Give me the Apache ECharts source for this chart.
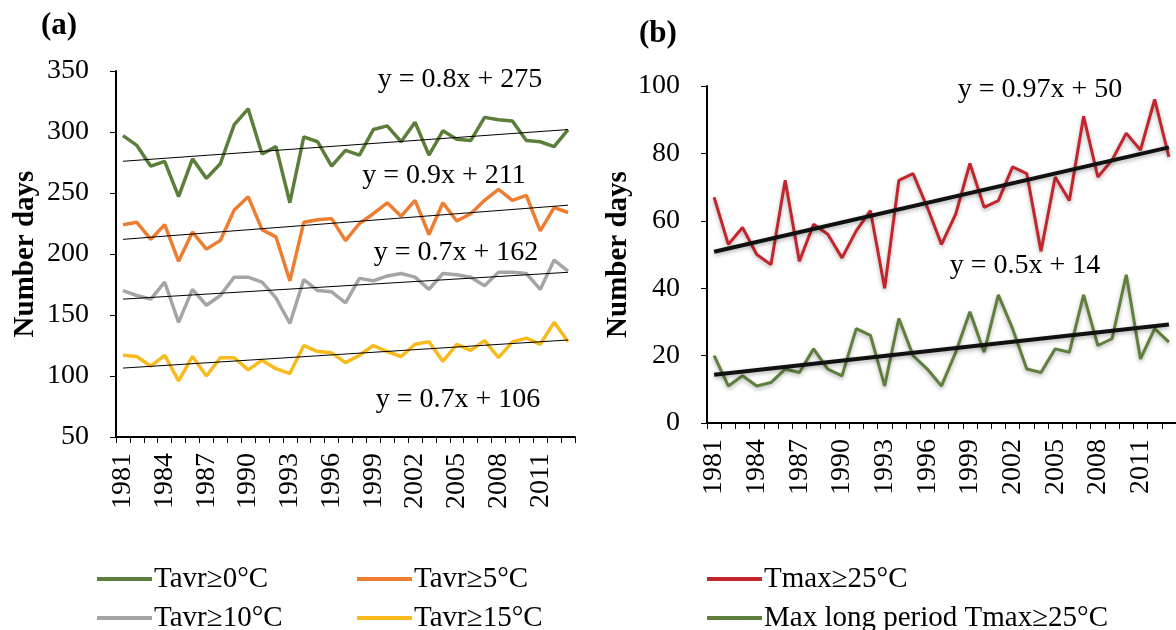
<!DOCTYPE html>
<html>
<head>
<meta charset="utf-8">
<script src="https://cdn.jsdelivr.net/npm/echarts@6/dist/echarts.min.js"></script>
<style>
  html, body { margin: 0; padding: 0; background: #fff; }
  #main { width: 1176px; height: 630px; }
</style>
</head>
<body>
<div id="main"></div>
<script>
var chartDom = document.getElementById('main');
var myChart = echarts.init(chartDom);

// years 1981-2013
var years = [];
for (var y = 1981; y <= 2013; y++) years.push(String(y));

// panel (a): number of days with Tavr above thresholds
var tavr0 = [297, 289, 272, 276, 247, 278, 262, 274, 306, 319, 282, 288, 242, 296, 292, 272, 285, 281, 302, 305, 292, 308, 281, 301, 294, 293, 312, 310, 309, 293, 292, 288, 302];
var tavr5 = [224, 226, 212, 224, 194, 218, 204, 211, 236, 247, 220, 214, 178, 226, 228, 229, 211, 225, 233, 242, 231, 244, 216, 242, 227, 233, 244, 253, 244, 248, 219, 238, 234];
var tavr10 = [170, 166, 163, 177, 144, 171, 158, 166, 181, 181, 177, 164, 143, 179, 170, 169, 160, 180, 178, 182, 184, 181, 171, 184, 183, 181, 174, 185, 185, 184, 171, 195, 186];
var tavr15 = [117, 116, 108, 117, 96, 116, 100, 115, 115, 105, 113, 106, 102, 125, 120, 119, 111, 117, 125, 120, 116, 126, 128, 112, 126, 121, 129, 115, 128, 131, 126, 144, 128];

// panel (b)
var tmax25 = [67, 53, 58, 50, 47, 72, 48, 59, 56, 49, 57, 63, 40, 72, 74, 64, 53, 62, 77, 64, 66, 76, 74, 51, 73, 66, 91, 73, 78, 86, 81, 96, 79];
var maxPeriod = [20, 11, 14, 11, 12, 16, 15, 22, 16, 14, 28, 26, 11, 31, 20, 16, 11, 21, 33, 21, 38, 28, 16, 15, 22, 21, 38, 23, 25, 44, 19, 28, 24];

// linear trends: [value at first year, value at last year]
var trendA = [[276, 302], [212, 240], [163, 185], [106.5, 129.5]];
var trendB = [[50.8, 81.8], [14.3, 29.2]];
var eqA = ['y = 0.8x + 275', 'y = 0.9x + 211', 'y = 0.7x + 162', 'y = 0.7x + 106'];
var eqB = ['y = 0.97x + 50', 'y = 0.5x + 14'];

var namesA = ['Tavr\u22650\u00B0C', 'Tavr\u22655\u00B0C', 'Tavr\u226510\u00B0C', 'Tavr\u226515\u00B0C'];
var namesB = ['Tmax\u226525\u00B0C', 'Max long period Tmax\u226525\u00B0C'];
var colorsA = ['#5B7F3A', '#ED7D31', '#A5A5A5', '#F8BA1C'];
var colorsB = ['#C1262D', '#5F7F3C'];

var font = 'Liberation Serif';

function trendData(t) {
  var d = years.map(function () { return null; });
  d[0] = t[0];
  d[years.length - 1] = t[1];
  return d;
}

function xAxis(gridIndex) {
  return {
    type: 'category',
    gridIndex: gridIndex,
    data: years,
    boundaryGap: true,
    axisLine: { lineStyle: { color: '#000', width: 2 } },
    axisTick: { show: true, interval: 0, length: 6, lineStyle: { color: '#000', width: 1 } },
    axisLabel: { interval: 2, rotate: 90, margin: 16, color: '#000', fontFamily: font, fontSize: 28 }
  };
}

function yAxis(gridIndex, min, max, interval, gap) {
  return {
    type: 'value',
    gridIndex: gridIndex,
    min: min,
    max: max,
    interval: interval,
    name: 'Number days',
    nameLocation: 'middle',
    nameGap: gap,
    nameTextStyle: { color: '#000', fontFamily: font, fontSize: 29, fontWeight: 'bold' },
    axisLine: { show: true, lineStyle: { color: '#000', width: 2 } },
    axisTick: { show: true, length: 6, lineStyle: { color: '#000', width: 1 } },
    axisLabel: { color: '#000', fontFamily: font, fontSize: 28, margin: 27 },
    splitLine: { show: false }
  };
}

var series = [];
[tavr0, tavr5, tavr10, tavr15].forEach(function (d, i) {
  series.push({
    name: namesA[i], type: 'line', xAxisIndex: 0, yAxisIndex: 0,
    data: d, symbol: 'none', color: colorsA[i],
    lineStyle: { width: 3.5, color: colorsA[i] }
  });
  series.push({
    type: 'line', xAxisIndex: 0, yAxisIndex: 0, data: trendData(trendA[i]),
    connectNulls: true, symbol: 'none', silent: true, z: 3,
    lineStyle: { width: 1, color: '#000' }
  });
});
[tmax25, maxPeriod].forEach(function (d, i) {
  series.push({
    name: namesB[i], type: 'line', xAxisIndex: 1, yAxisIndex: 1,
    data: d, symbol: 'none', color: colorsB[i],
    lineStyle: { width: 3, color: colorsB[i], shadowBlur: 4, shadowColor: 'rgba(0,0,0,0.3)', shadowOffsetY: 2 }
  });
  series.push({
    type: 'line', xAxisIndex: 1, yAxisIndex: 1, data: trendData(trendB[i]),
    connectNulls: true, symbol: 'none', silent: true, z: 3,
    lineStyle: { width: 4, color: '#111', shadowBlur: 4, shadowColor: 'rgba(0,0,0,0.3)', shadowOffsetY: 2 }
  });
});

// equation labels
var eqPos = [[460, 80], [444, 176], [456, 253], [458, 400], [1040, 90], [1025, 266]];
var graphics = eqA.concat(eqB).map(function (t, i) {
  return {
    type: 'text', x: eqPos[i][0], y: eqPos[i][1],
    style: { text: t, font: '28px "' + font + '"', fill: '#000', align: 'center', verticalAlign: 'middle' }
  };
});

// one legend per item so each can be placed in its own column/row
function legend(left, top, name) {
  return {
    left: left, top: top,
    itemWidth: 55, itemHeight: 4, icon: 'rect',
    data: [name],
    textStyle: { color: '#000', fontFamily: font, fontSize: 29, lineHeight: 30, padding: [0, 0, 0, -3] }
  };
}

option = {
  backgroundColor: '#fff',
  animation: false,
  title: [
    { text: '(a)', left: 36, top: 5, textStyle: { fontFamily: font, fontSize: 31, fontWeight: 'bold', color: '#000' } },
    { text: '(b)', left: 634, top: 13, textStyle: { fontFamily: font, fontSize: 31, fontWeight: 'bold', color: '#000' } }
  ],
  grid: [
    { left: 116, top: 71, width: 459, height: 366 },
    { left: 707, top: 86, width: 470, height: 337 }
  ],
  xAxis: [xAxis(0), xAxis(1)],
  yAxis: [yAxis(0, 50, 350, 50, 76), yAxis(1, 0, 100, 20, 74)],
  legend: [
    legend(92, 559, namesA[0]),
    legend(92, 598, namesA[2]),
    legend(352, 559, namesA[1]),
    legend(352, 598, namesA[3]),
    legend(702, 559, namesB[0]),
    legend(702, 598, namesB[1])
  ],
  graphic: graphics,
  series: series
};

myChart.setOption(option);
window.addEventListener('resize', function () {
  myChart.resize();
});
</script>
</body>
</html>
